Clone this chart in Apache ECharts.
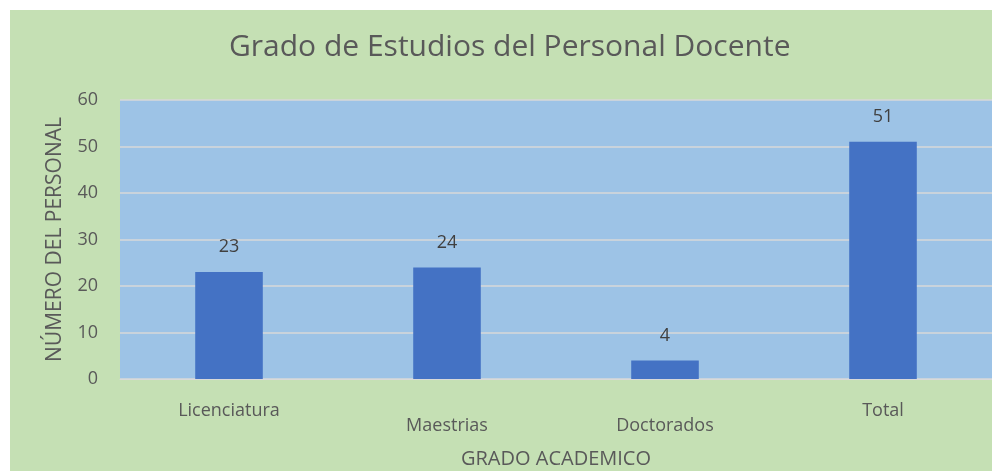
<!DOCTYPE html>
<html>
<head>
<meta charset="utf-8">
<script src="https://cdn.jsdelivr.net/npm/echarts@6/dist/echarts.min.js"></script>
<style>
  html, body { margin: 0; padding: 0; background: #ffffff; }
  #chart { position: absolute; left: 10px; top: 10px; width: 982px; height: 461px; }
</style>
</head>
<body>
<div id="chart"></div>
<script>
// datos del grafico
const categories = ['Licenciatura', 'Maestrias', 'Doctorados', 'Total']
const values = [23, 24, 4, 51]
const yTicks = { min: 0, max: 60, interval: 10 }
// etiquetas que van en la segunda fila (escalonadas)
const lowLabels = ['Maestrias', 'Doctorados']

const chart = echarts.init(document.getElementById('chart'))

const option = {
  backgroundColor: '#C5E0B4',
  textStyle: { fontFamily: 'Open Sans' },
  title: {
    text: 'Grado de Estudios del Personal Docente',
    left: 214,
    top: 17,
    textStyle: { fontSize: 30, fontWeight: 'normal', color: '#595959', fontFamily: 'Open Sans' }
  },
  grid: {
    left: 110,
    right: 0,
    top: 90,
    bottom: 92,
    outerBoundsMode: 'none',
    show: true,
    backgroundColor: '#9DC3E6',
    borderWidth: 0
  },
  xAxis: {
    type: 'category',
    data: categories,
    name: 'GRADO ACADEMICO',
    nameLocation: 'middle',
    nameGap: 70,
    nameTextStyle: { fontSize: 20, color: '#595959' },
    axisLine: { lineStyle: { color: '#D9D9D9' } },
    axisTick: { show: false },
    axisLabel: {
      margin: 23,
      interval: 0,
      color: '#595959',
      fontSize: 18,
      formatter: function (v) {
        return lowLabels.indexOf(v) >= 0 ? '{low|' + v + '}' : '{high|' + v + '}'
      },
      rich: {
        high: { fontSize: 18, color: '#595959' },
        low: { fontSize: 18, color: '#595959', padding: [15, 0, 0, 0] }
      }
    }
  },
  yAxis: {
    type: 'value',
    min: yTicks.min,
    max: yTicks.max,
    interval: yTicks.interval,
    name: 'NÚMERO DEL PERSONAL',
    nameLocation: 'middle',
    nameGap: 54,
    nameTextStyle: { fontSize: 21, color: '#595959' },
    axisLabel: { margin: 22, fontSize: 18, color: '#595959' },
    axisLine: { show: false },
    axisTick: { show: false },
    splitLine: { lineStyle: { color: '#D9D9D9', width: 1.5 } }
  },
  series: [
    {
      type: 'bar',
      data: values,
      barWidth: '31%',
      itemStyle: { color: '#4472C4' },
      label: {
        show: true,
        position: 'top',
        distance: 16,
        fontSize: 18,
        color: '#404040'
      }
    }
  ]
}

chart.setOption(option)
</script>
</body>
</html>
